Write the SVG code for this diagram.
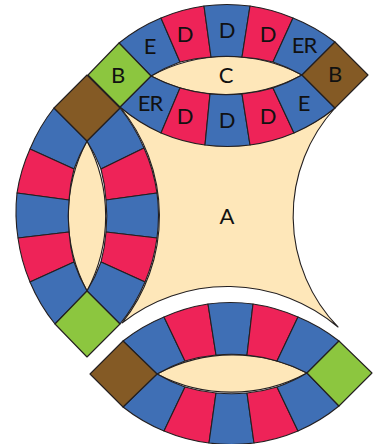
<svg xmlns="http://www.w3.org/2000/svg" width="378" height="444" viewBox="0 0 378 444">
<style>
path{stroke:#231f20;stroke-width:1.1;stroke-linejoin:round}
.bl{fill:#3f6fb5}.rd{fill:#ee2358}.cr{fill:#fee7b9}.gr{fill:#8cc63f}.br{fill:#845a25}
text{font-family:"Lato","Open Sans",sans-serif;font-size:22px;text-anchor:middle;fill:#111}
</style>
<rect width="378" height="444" fill="#fff"/>
<g id="patch-a"><path class="cr" d="M120 107A171 171 0 0 0 335 108A160 160 0 0 0 338 327A171 171 0 0 0 122 323A171 171 0 0 0 120 107Z"/><text x="227" y="224">A</text></g>
<g id="ring-top">
<g id="top-c"><path class="cr" d="M151 76A160 160 0 0 1 302 75A160 160 0 0 1 151 76Z"/><text x="226" y="83">C</text></g>
<g id="top-u1"><path class="bl" d="M119 43A171 171 0 0 1 161 18L180 62A160 160 0 0 0 151 76Z"/><text x="150" y="54">E</text></g>
<g id="top-u2"><path class="rd" d="M161 18A171 171 0 0 1 204 6L211 57A160 160 0 0 0 180 62Z"/><text x="185" y="42">D</text></g>
<g id="top-u3"><path class="bl" d="M204 6A171 171 0 0 1 250 6L242 57A160 160 0 0 0 211 57Z"/><text x="227" y="38">D</text></g>
<g id="top-u4"><path class="rd" d="M250 6A171 171 0 0 1 293 18L273 62A160 160 0 0 0 242 57Z"/><text x="268" y="42">D</text></g>
<g id="top-u5"><path class="bl" d="M293 18A171 171 0 0 1 335 42L302 75A160 160 0 0 0 273 62Z"/><text x="304" y="53" letter-spacing="-1">ER</text></g>
<g id="top-l1"><path class="bl" d="M151 76A160 160 0 0 0 180 88L161 133A171 171 0 0 1 120 107Z"/><text x="150" y="111" letter-spacing="-1">ER</text></g>
<g id="top-l2"><path class="rd" d="M180 88A160 160 0 0 0 210 94L205 145A171 171 0 0 1 161 133Z"/><text x="185" y="124">D</text></g>
<g id="top-l3"><path class="bl" d="M210 94A160 160 0 0 0 242 94L250 145A171 171 0 0 1 205 145Z"/><text x="227" y="128">D</text></g>
<g id="top-l4"><path class="rd" d="M242 94A160 160 0 0 0 273 88L294 133A171 171 0 0 1 250 145Z"/><text x="268" y="124">D</text></g>
<g id="top-l5"><path class="bl" d="M273 88A160 160 0 0 0 302 75L335 108A171 171 0 0 1 294 133Z"/><text x="304" y="111">E</text></g>
<g id="top-b-green"><path class="gr" d="M88 75L119 43L151 76L120 107Z"/><text x="118" y="83">B</text></g>
<g id="top-b-brown"><path class="br" d="M335 42L368 75L335 108L302 75Z"/><text x="335" y="82">B</text></g>
</g>
<g id="ring-left">
<g id="left-c"><path class="cr" d="M87 141A160 160 0 0 0 87 291A160 160 0 0 0 87 141Z"/></g>
<g id="left-l1"><path class="bl" d="M54 108A171 171 0 0 0 30 149L74 169A160 160 0 0 1 87 141Z"/></g>
<g id="left-l2"><path class="rd" d="M30 149A171 171 0 0 0 17 193L69 200A160 160 0 0 1 74 169Z"/></g>
<g id="left-l3"><path class="bl" d="M17 193A171 171 0 0 0 18 238L69 232A160 160 0 0 1 69 200Z"/></g>
<g id="left-l4"><path class="rd" d="M18 238A171 171 0 0 0 30 282L74 262A160 160 0 0 1 69 232Z"/></g>
<g id="left-l5"><path class="bl" d="M30 282A171 171 0 0 0 55 324L87 291A160 160 0 0 1 74 262Z"/></g>
<g id="left-r1"><path class="bl" d="M120 108A171 171 0 0 1 144 148L101 169A160 160 0 0 0 87 141Z"/></g>
<g id="left-r2"><path class="rd" d="M144 148A171 171 0 0 1 157 193L106 200A160 160 0 0 0 101 169Z"/></g>
<g id="left-r3"><path class="bl" d="M157 193A171 171 0 0 1 157 238L106 232A160 160 0 0 0 106 200Z"/></g>
<g id="left-r4"><path class="rd" d="M157 238A171 171 0 0 1 145 282L101 262A160 160 0 0 0 106 232Z"/></g>
<g id="left-r5"><path class="bl" d="M145 282A171 171 0 0 1 120 324L87 291A160 160 0 0 0 101 262Z"/></g>
<g id="left-b-brown"><path class="br" d="M87 75L120 108L87 141L54 108Z"/></g>
<g id="left-b-green"><path class="gr" d="M87 291L120 324L87 357L55 324Z"/></g>
</g>
<g id="ring-bottom">
<g id="bot-c"><path class="cr" d="M157 374A160 160 0 0 1 307 373A160 160 0 0 1 157 374Z"/></g>
<g id="bot-u1"><path class="bl" d="M123 341A171 171 0 0 1 164 317L185 361A160 160 0 0 0 157 374Z"/></g>
<g id="bot-u2"><path class="rd" d="M164 317A171 171 0 0 1 208 304L216 355A160 160 0 0 0 185 361Z"/></g>
<g id="bot-u3"><path class="bl" d="M208 304A171 171 0 0 1 253 304L247 355A160 160 0 0 0 216 355Z"/></g>
<g id="bot-u4"><path class="rd" d="M253 304A171 171 0 0 1 298 317L277 361A160 160 0 0 0 247 355Z"/></g>
<g id="bot-u5"><path class="bl" d="M298 317A171 171 0 0 1 339 341L307 373A160 160 0 0 0 277 361Z"/></g>
<g id="bot-l1"><path class="bl" d="M157 374A160 160 0 0 0 185 387L164 431A171 171 0 0 1 123 407Z"/></g>
<g id="bot-l2"><path class="rd" d="M185 387A160 160 0 0 0 216 393L209 443A171 171 0 0 1 164 431Z"/></g>
<g id="bot-l3"><path class="bl" d="M216 393A160 160 0 0 0 247 393L254 443A171 171 0 0 1 209 443Z"/></g>
<g id="bot-l4"><path class="rd" d="M247 393A160 160 0 0 0 277 387L298 431A171 171 0 0 1 254 443Z"/></g>
<g id="bot-l5"><path class="bl" d="M277 387A160 160 0 0 0 307 373L339 406A171 171 0 0 1 298 431Z"/></g>
<g id="bot-b-brown"><path class="br" d="M123 407L90 374L123 341L157 374Z"/></g>
<g id="bot-b-green"><path class="gr" d="M339 341L372 373L339 406L307 373Z"/></g>
</g>
<g id="connectors"></g>
</svg>
